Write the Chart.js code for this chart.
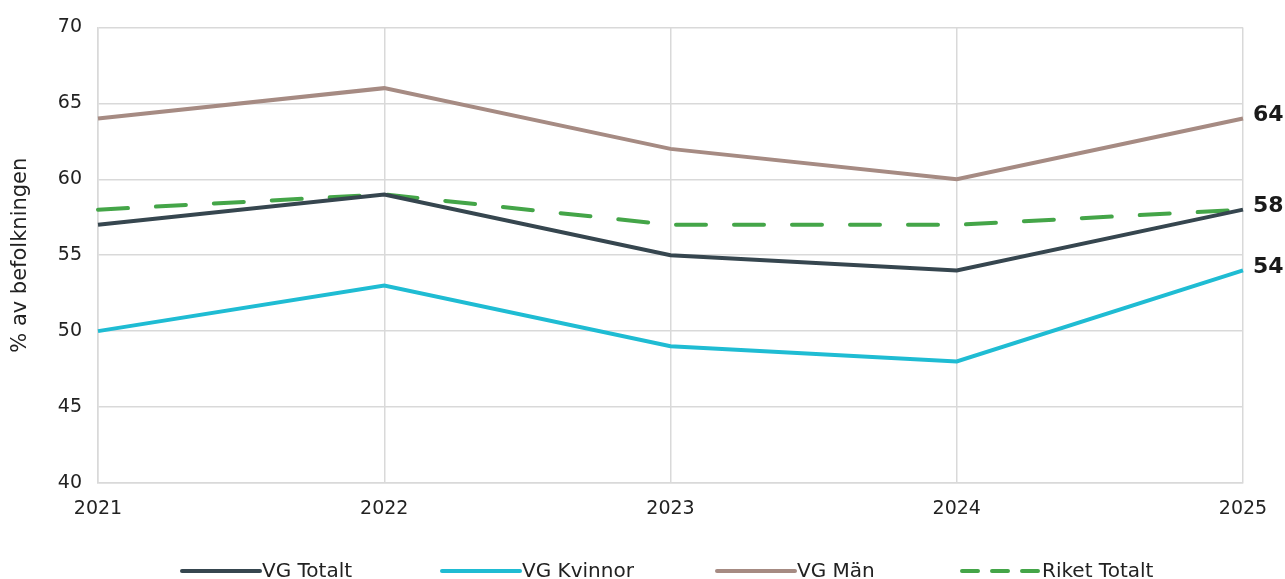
<!DOCTYPE html>
<html>
<head>
<meta charset="utf-8">
<script src="https://cdn.jsdelivr.net/npm/chart.js@4.4.1/dist/chart.umd.min.js"></script>
<style>
  html, body { margin: 0; padding: 0; background: #fff; }
  #wrap { width: 1285px; height: 579px; }
</style>
</head>
<body>
<div id="wrap"><canvas id="chart"></canvas></div>
<script>
// data
const years = ['2021', '2022', '2023', '2024', '2025'];
const vgTotalt = [57, 59, 55, 54, 58];
const vgKvinnor = [50, 53, 49, 48, 54];
const vgMan = [64, 66, 62, 60, 64];
const riketTotalt = [58, 59, 57, 57, 58];
const seriesNames = ['VG Totalt', 'VG Kvinnor', 'VG Män', 'Riket Totalt'];
const yTicks = [40, 45, 50, 55, 60, 65, 70];
const endLabelSeries = [0, 1, 2];

const FONT = "'DejaVu Sans', Verdana, sans-serif";

// slutvärden till höger om linjerna
const endLabels = {
    id: 'endLabels',
    afterDatasetsDraw(chart) {
        const ctx = chart.ctx;
        ctx.save();
        ctx.font = 'bold 22px ' + FONT;
        ctx.fillStyle = '#1a1a1a';
        ctx.textAlign = 'left';
        ctx.textBaseline = 'middle';
        endLabelSeries.forEach(i => {
            const meta = chart.getDatasetMeta(i);
            const pt = meta.data[meta.data.length - 1];
            const ds = chart.data.datasets[i];
            ctx.fillText(ds.data[ds.data.length - 1], pt.x + 10, pt.y - 3);
        });
        ctx.restore();
    }
};

// legend längst ner
const bottomLegend = {
    id: 'bottomLegend',
    afterDraw(chart) {
        const ctx = chart.ctx;
        const starts = [180, 440, 715, 960];
        const y = 571;
        ctx.save();
        ctx.font = '20px ' + FONT;
        ctx.textBaseline = 'middle';
        ctx.fillStyle = '#222';
        chart.data.datasets.forEach((ds, i) => {
            const x = starts[i];
            const dashed = ds.borderDash && ds.borderDash.length;
            ctx.beginPath();
            ctx.strokeStyle = ds.borderColor;
            ctx.lineWidth = 4;
            ctx.lineCap = 'round';
            ctx.setLineDash(dashed ? [16, 14] : []);
            ctx.moveTo(x + 2, y);
            ctx.lineTo(x + 80, y);
            ctx.stroke();
            ctx.setLineDash([]);
            ctx.fillText(ds.label, x + 82, y + 1);
        });
        ctx.restore();
    }
};

const datasets = [
    { label: seriesNames[0], data: vgTotalt, borderColor: '#36464f' },
    { label: seriesNames[1], data: vgKvinnor, borderColor: '#1fbcd3' },
    { label: seriesNames[2], data: vgMan, borderColor: '#a68b83' },
    { label: seriesNames[3], data: riketTotalt, borderColor: '#44a548', borderDash: [30, 28], borderCapStyle: 'round' }
].map(d => Object.assign({
    borderWidth: 4,
    pointRadius: 0,
    pointHoverRadius: 0,
    tension: 0,
    fill: false
}, d));

new Chart(document.getElementById('chart').getContext('2d'), {
    type: 'line',
    data: { labels: years, datasets: datasets },
    options: {
        responsive: true,
        maintainAspectRatio: false,
        animation: false,
        layout: { padding: { top: 22, right: 42, left: 0, bottom: 0 } },
        plugins: {
            legend: { display: false },
            tooltip: { enabled: false }
        },
        scales: {
            x: {
                offset: false,
                grid: { color: '#d9d9d9', lineWidth: 1.5, drawTicks: false },
                border: { color: '#d9d9d9', width: 1.5 },
                ticks: {
                    color: '#222',
                    font: { family: FONT, size: 19 },
                    padding: 15,
                    maxRotation: 0
                },
                afterFit(scale) { scale.height = 96; }
            },
            y: {
                min: 40,
                max: 70,
                afterBuildTicks(scale) { scale.ticks = yTicks.map(v => ({ value: v })); },
                grid: { color: '#d9d9d9', lineWidth: 1.5, drawTicks: false },
                border: { color: '#d9d9d9', width: 1.5 },
                ticks: {
                    color: '#222',
                    font: { family: FONT, size: 19 },
                    padding: 16
                },
                title: {
                    display: true,
                    text: '% av befolkningen',
                    color: '#222',
                    font: { family: FONT, size: 21 },
                    padding: { top: 8, bottom: 0 }
                },
                afterFit(scale) { scale.width = 98; }
            }
        }
    },
    plugins: [endLabels, bottomLegend]
});
</script>
</body>
</html>
